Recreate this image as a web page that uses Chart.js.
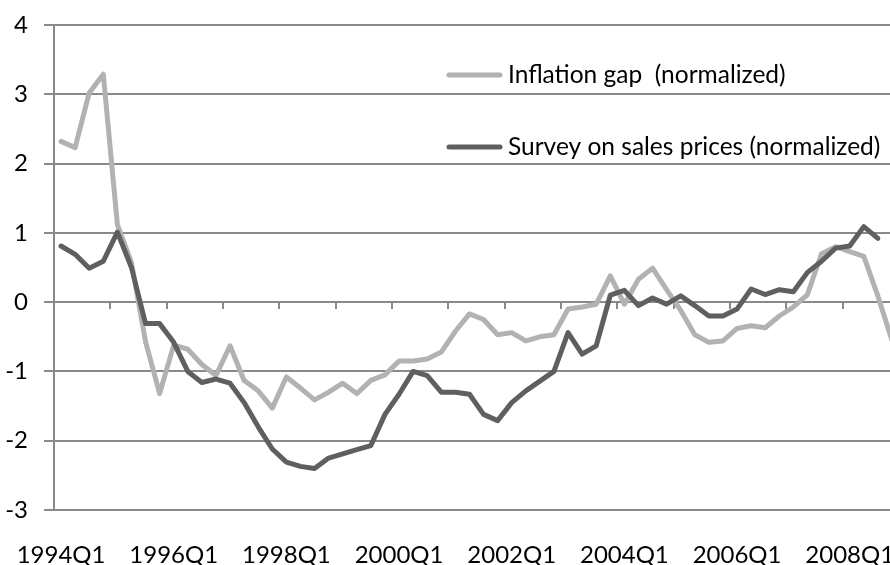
<!DOCTYPE html>
<html><head><meta charset="utf-8">
<script src="https://cdn.jsdelivr.net/npm/chart.js@4.4.1/dist/chart.umd.min.js"></script>
<style>
html,body{margin:0;padding:0;background:#fff;overflow:hidden;width:890px;height:565px}
#wrap{position:relative;width:905px;height:565px}
canvas{display:block}
</style></head>
<body><div id="wrap"><canvas id="c" width="905" height="565"></canvas></div>
<script>
const categories = [
 '1994Q1','1994Q2','1994Q3','1994Q4','1995Q1','1995Q2','1995Q3','1995Q4',
 '1996Q1','1996Q2','1996Q3','1996Q4','1997Q1','1997Q2','1997Q3','1997Q4',
 '1998Q1','1998Q2','1998Q3','1998Q4','1999Q1','1999Q2','1999Q3','1999Q4',
 '2000Q1','2000Q2','2000Q3','2000Q4','2001Q1','2001Q2','2001Q3','2001Q4',
 '2002Q1','2002Q2','2002Q3','2002Q4','2003Q1','2003Q2','2003Q3','2003Q4',
 '2004Q1','2004Q2','2004Q3','2004Q4','2005Q1','2005Q2','2005Q3','2005Q4',
 '2006Q1','2006Q2','2006Q3','2006Q4','2007Q1','2007Q2','2007Q3','2007Q4',
 '2008Q1','2008Q2','2008Q3','2008Q4'
];
const tickLabels = ['1994Q1','1996Q1','1998Q1','2000Q1','2002Q1','2004Q1','2006Q1','2008Q1'];
const inflationGap = [
 2.32, 2.23, 3.02, 3.29, 1.12, 0.57, -0.57, -1.32,
 -0.62, -0.68, -0.90, -1.06, -0.63, -1.13, -1.28, -1.53,
 -1.08, -1.24, -1.41, -1.30, -1.17, -1.32, -1.13, -1.05,
 -0.85, -0.85, -0.82, -0.72, -0.42, -0.17, -0.25, -0.47,
 -0.44, -0.56, -0.50, -0.47, -0.10, -0.07, -0.03, 0.38,
 -0.03, 0.33, 0.49, 0.18, -0.12, -0.47, -0.58, -0.56,
 -0.38, -0.34, -0.37, -0.20, -0.07, 0.11, 0.70, 0.80,
 0.73, 0.66, 0.09, -0.55
];
const salesPriceSurvey = [
 0.81, 0.69, 0.49, 0.59, 1.01, 0.50, -0.31, -0.31,
 -0.58, -1.00, -1.16, -1.11, -1.17, -1.45, -1.80, -2.12,
 -2.31, -2.37, -2.40, -2.25, -2.19, -2.13, -2.07, -1.62,
 -1.33, -1.00, -1.06, -1.30, -1.30, -1.33, -1.62, -1.71,
 -1.45, -1.28, -1.14, -1.00, -0.44, -0.75, -0.63, 0.10,
 0.17, -0.05, 0.06, -0.03, 0.09, -0.05, -0.20, -0.20,
 -0.10, 0.19, 0.11, 0.18, 0.15, 0.43, 0.59, 0.78,
 0.81, 1.09, 0.92
];
const seriesNames = ['Inflation gap  (normalized)', 'Survey on sales prices (normalized)'];
const yMin = -3, yMax = 4, yStep = 1;
const quartersPerTick = 4;

const FONT = 'Lato';
const GRID = '#8a8a8a';

// horizontal axis crosses at 0: tick marks between categories, every 4 quarters
const zeroAxisTicks = {
  id: 'zeroAxisTicks',
  beforeDatasetsDraw(chart) {
    const xs = chart.scales.x, ys = chart.scales.y;
    const y0 = Math.round(ys.getPixelForValue(0));
    const ctx = chart.ctx;
    ctx.save();
    ctx.strokeStyle = GRID;
    ctx.lineWidth = 2;
    ctx.beginPath();
    for (let i = quartersPerTick; i <= categories.length; i += quartersPerTick) {
      const x = Math.round(xs.getPixelForValue(i - 0.5));
      ctx.moveTo(x, y0);
      ctx.lineTo(x, y0 + 7);
    }
    ctx.stroke();
    ctx.restore();
  }
};

const insideLegend = {
  id: 'insideLegend',
  afterDatasetsDraw(chart) {
    const ctx = chart.ctx;
    const rows = [75, 147];
    ctx.save();
    chart.data.datasets.forEach((ds, i) => {
      const y = rows[i];
      ctx.strokeStyle = ds.borderColor;
      ctx.lineWidth = 5;
      ctx.lineCap = 'round';
      ctx.beginPath(); ctx.moveTo(449, y); ctx.lineTo(500, y); ctx.stroke();
      ctx.fillStyle = '#000';
      ctx.font = '24.5px ' + FONT;
      ctx.textBaseline = 'middle';
      ctx.textAlign = 'left';
      ctx.fillText(ds.label, 508, y);
    });
    ctx.restore();
  }
};

new Chart(document.getElementById('c'), {
  type: 'line',
  data: {
    labels: categories,
    datasets: [
      { label: seriesNames[0], data: inflationGap, borderColor: '#b2b2b2', backgroundColor: '#b2b2b2',
        borderWidth: 5, pointRadius: 0, tension: 0, borderJoinStyle: 'round', borderCapStyle: 'round', order: 2 },
      { label: seriesNames[1], data: salesPriceSurvey, borderColor: '#5f5f5f', backgroundColor: '#5f5f5f',
        borderWidth: 5, pointRadius: 0, tension: 0, borderJoinStyle: 'round', borderCapStyle: 'round', order: 1 }
    ]
  },
  options: {
    responsive: false,
    animation: false,
    events: [],
    layout: { padding: { top: 25, right: 6, bottom: 0, left: 0 } },
    plugins: { legend: { display: false }, tooltip: { enabled: false } },
    scales: {
      x: {
        type: 'category',
        offset: true,
        grid: { display: false, drawTicks: false },
        border: { display: false },
        ticks: {
          autoSkip: false, maxRotation: 0, minRotation: 0,
          color: '#000', font: { family: FONT, size: 24 }, padding: 31,
          callback: (v, i) => tickLabels.includes(categories[i]) ? categories[i] : ''
        },
        afterFit: s => { s.height = 55; s.paddingLeft = 0; s.paddingRight = 0; }
      },
      y: {
        min: yMin, max: yMax,
        ticks: { stepSize: yStep, color: '#000', font: { family: FONT, size: 24 }, padding: 16 },
        grid: { color: GRID, lineWidth: 2, tickLength: 10, drawTicks: true },
        border: { display: true, color: GRID, width: 2 },
        afterFit: s => { s.width = 54; s.paddingTop = 0; s.paddingBottom = 0; }
      }
    }
  },
  plugins: [zeroAxisTicks, insideLegend]
});
</script>
</body></html>
